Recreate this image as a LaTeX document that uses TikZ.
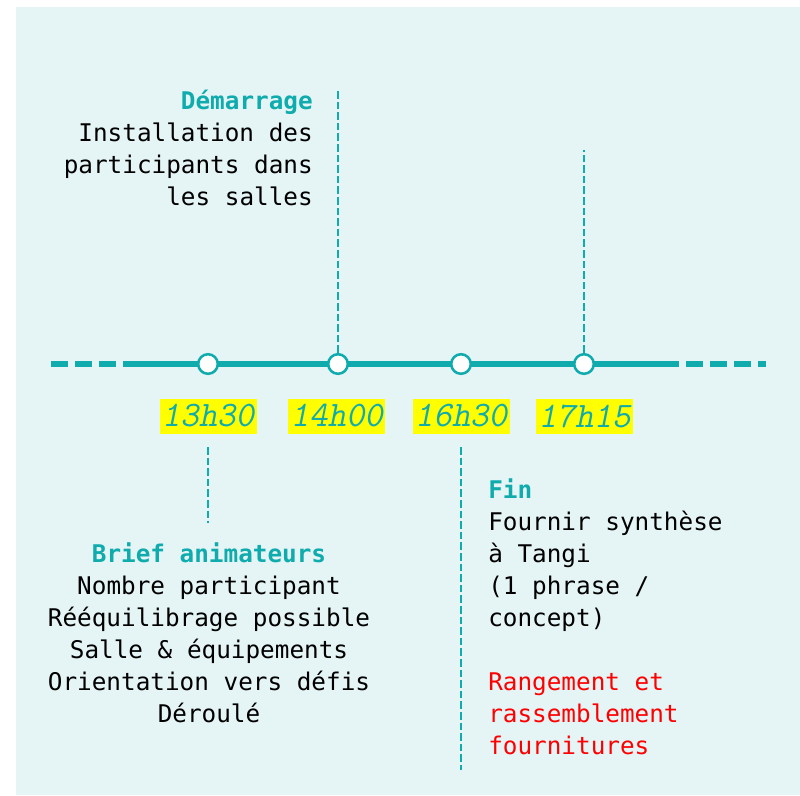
\documentclass[tikz,border=0pt]{standalone}
\usepackage{fontspec}
\setmonofont{DejaVu Sans Mono}
\newfontfamily\heurefont{Latin Modern Mono}[FakeSlant=0.2]
\usepackage{xcolor}
\usepackage{tikz}
\usetikzlibrary{shapes}
\definecolor{fond}{RGB}{229,245,246}
\definecolor{sarcelle}{RGB}{16,171,173}
\definecolor{surligne}{RGB}{255,255,0}
\definecolor{rouge}{RGB}{255,0,0}
\tikzstyle{jalon} = [circle, draw=sarcelle, fill=white, line width=1.8pt, minimum size=0.49cm, inner sep=0]
\tikzstyle{heure} = [rectangle, fill=surligne, text=sarcelle, inner sep=0, minimum width=2.425cm, minimum height=0.875cm, font=\fontsize{25.5}{26}\selectfont\heurefont]
\tikzstyle{bloc} = [inner sep=0, font=\fontsize{17.3}{22.76}\selectfont\ttfamily]
\tikzstyle{axe} = [draw=sarcelle, line width=3.9pt]
\tikzstyle{pointille} = [draw=sarcelle, line width=3.9pt, dash pattern=on 0.425cm off 0.175cm]
\tikzstyle{repere} = [draw=sarcelle, line width=1.8pt, dash pattern=on 0.19cm off 0.075cm]
\newcommand{\titre}[1]{\textbf{\textcolor{sarcelle}{#1}}}

\begin{document}
\begin{tikzpicture}
        \useasboundingbox (0,0) rectangle (20,-19.875);
        \fill [fond] (0.4,-0.175) rectangle (20,-19.875);

        % axe du temps
        \coordinate (gauche) at (1.275,-9.1);
        \coordinate (debut) at (3.2,-9.1);
        \coordinate (fin axe) at (16.55,-9.1);
        \coordinate (droite) at (19.15,-9.1);
        \path [pointille] (gauche) -- (debut);
        \path [axe] (debut) -- (fin axe);
        \path [pointille] (fin axe) -- (droite);

        \node [jalon] at (5.2,-9.1) (j1330) {};
        \node [jalon] at (8.45,-9.1) (j1400) {};
        \node [jalon] at (11.525,-9.1) (j1630) {};
        \node [jalon] at (14.6,-9.1) (j1715) {};

        \node [heure] at (5.2,-10.4) (h1330) {13h30};
        \node [heure] at (8.42,-10.4) (h1400) {14h00};
        \node [heure] at (11.525,-10.4) (h1630) {16h30};
        \node [heure] at (14.61,-10.4) (h1715) {17h15};

        \node [bloc, align=right, anchor=north east] at (7.825,-2.25) (demarrage)
        {\titre{Démarrage}\\Installation des\\participants dans\\les salles};

        \node [bloc, align=center, anchor=north] at (5.225,-13.55) (brief)
        {\titre{Brief animateurs}\\Nombre participant\\Rééquilibrage possible\\Salle \& équipements\\Orientation vers défis\\Déroulé};

        \node [bloc, align=left, anchor=north west] at (12.2,-11.95) (fin)
        {\titre{Fin}\\Fournir synthèse\\à Tangi\\(1 phrase /\\concept)\\[0.8cm]\textcolor{rouge}{Rangement et}\\\textcolor{rouge}{rassemblement}\\\textcolor{rouge}{fournitures}};

        % reperes verticaux
        \coordinate (haut1400) at (8.45,-2.225);
        \coordinate (haut1715) at (14.6,-3.75);
        \coordinate (sous1330) at (5.2,-11.175);
        \coordinate (bas1330) at (5.2,-13.075);
        \coordinate (sous1630) at (11.525,-11.175);
        \coordinate (bas1630) at (11.525,-19.25);

        \path [repere] (j1400) -- (haut1400);
        \path [repere] (j1715) -- (haut1715);
        \path [repere] (sous1330) -- (bas1330);
        \path [repere] (sous1630) -- (bas1630);
\end{tikzpicture}
\end{document}
